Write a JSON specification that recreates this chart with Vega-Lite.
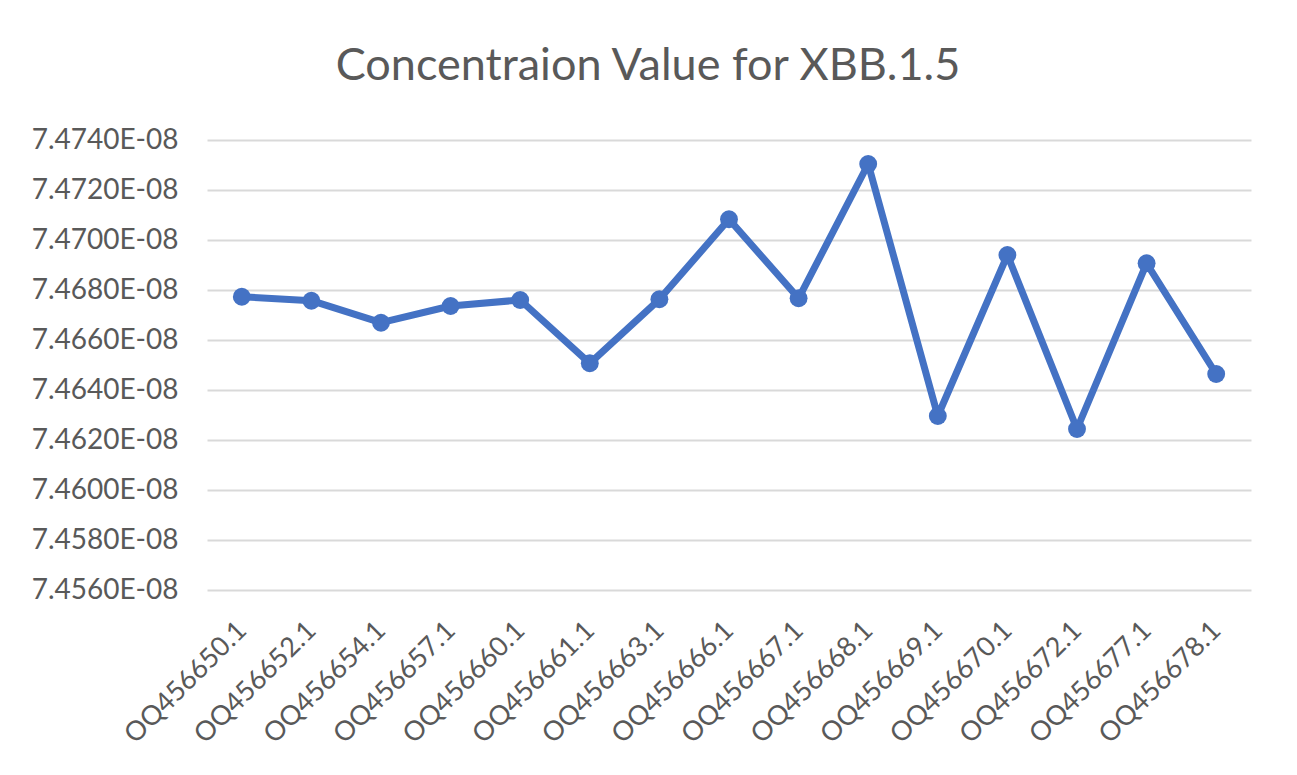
{
  "$schema": "https://vega.github.io/schema/vega-lite/v6.json",
  "autosize": {"type": "none"},
  "width": 1044,
  "height": 450,
  "padding": {"left": 207, "top": 140, "right": 46, "bottom": 185},
  "background": "#ffffff",
  "title": {
    "text": "Concentraion Value for XBB.1.5",
    "font": "Lato",
    "fontSize": 45,
    "fontWeight": "normal",
    "color": "#595959",
    "anchor": "middle",
    "frame": "group",
    "dx": -81,
    "dy": 44,
    "baseline": "alphabetic",
    "offset": 45
  },
  "data": {
    "values": [
      {"sample": "OQ456650.1", "value": 7.467732e-8},
      {"sample": "OQ456652.1", "value": 7.467572e-8},
      {"sample": "OQ456654.1", "value": 7.466692e-8},
      {"sample": "OQ456657.1", "value": 7.46736e-8},
      {"sample": "OQ456660.1", "value": 7.4676e-8},
      {"sample": "OQ456661.1", "value": 7.465068e-8},
      {"sample": "OQ456663.1", "value": 7.467628e-8},
      {"sample": "OQ456666.1", "value": 7.470828e-8},
      {"sample": "OQ456667.1", "value": 7.467668e-8},
      {"sample": "OQ456668.1", "value": 7.47304e-8},
      {"sample": "OQ456669.1", "value": 7.46296e-8},
      {"sample": "OQ456670.1", "value": 7.4694e-8},
      {"sample": "OQ456672.1", "value": 7.46244e-8},
      {"sample": "OQ456677.1", "value": 7.469068e-8},
      {"sample": "OQ456678.1", "value": 7.46464e-8}
    ]
  },
  "encoding": {
    "x": {
      "field": "sample",
      "type": "nominal",
      "sort": null,
      "title": null,
      "axis": {
        "labelAngle": -45,
        "labelAlign": "right",
        "labelBaseline": "middle",
        "labelPadding": 36,
        "labelFont": "Lato",
        "labelFontSize": 27,
        "labelColor": "#595959",
        "ticks": false,
        "domain": false,
        "grid": false,
        "labelOverlap": false
      }
    },
    "y": {
      "field": "value",
      "type": "quantitative",
      "title": null,
      "scale": {"domain": [7.456e-8, 7.474e-8], "zero": false, "nice": false},
      "axis": {
        "values": [7.456e-8, 7.458e-8, 7.46e-8, 7.462e-8, 7.464e-8, 7.466e-8, 7.468e-8, 7.47e-8, 7.472e-8, 7.474e-8],
        "labelExpr": "replace(format(datum.value, '.4e'), 'e-8', 'E-08')",
        "labelFont": "Lato",
        "labelFontSize": 28,
        "labelColor": "#595959",
        "labelPadding": 29,
        "ticks": false,
        "domain": false,
        "gridColor": "#d9d9d9",
        "gridWidth": 2
      }
    }
  },
  "layer": [
    {
      "mark": {"type": "line", "color": "#4472C4", "strokeWidth": 7, "strokeJoin": "round"}
    },
    {
      "mark": {"type": "point", "filled": true, "shape": "circle", "size": 320, "color": "#4472C4", "opacity": 1}
    }
  ],
  "config": {
    "view": {"stroke": null},
    "font": "Lato"
  }
}
